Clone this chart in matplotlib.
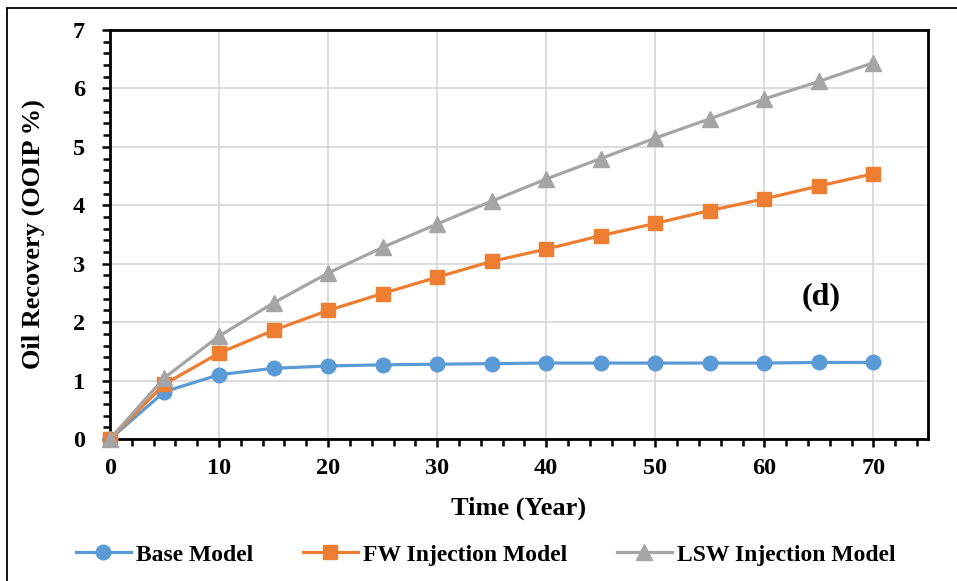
import matplotlib
matplotlib.use('Agg')
import matplotlib.pyplot as plt
from matplotlib.patches import Rectangle
from matplotlib.ticker import MultipleLocator

# data
years = [0, 5, 10, 15, 20, 25, 30, 35, 40, 45, 50, 55, 60, 65, 70]
base_model = [0, 0.81, 1.10, 1.21, 1.25, 1.27, 1.28, 1.29, 1.30, 1.30, 1.30, 1.30, 1.30, 1.31, 1.31]
fw_model = [0, 0.94, 1.47, 1.86, 2.20, 2.49, 2.77, 3.04, 3.25, 3.48, 3.69, 3.91, 4.11, 4.33, 4.54]
lsw_model = [0, 1.05, 1.76, 2.33, 2.84, 3.28, 3.68, 4.07, 4.45, 4.80, 5.15, 5.48, 5.82, 6.12, 6.44]

plt.rcParams['font.family'] = ['Liberation Serif', 'DejaVu Serif']
plt.rcParams['font.weight'] = 'bold'

fig = plt.figure(figsize=(9.57, 5.81), dpi=100)
ax = fig.add_axes([0.1149, 0.2444, 0.8548, 0.704])

# outer frame (partly cut off at right/bottom like the picture)
fig.patches.append(Rectangle((7 / 957, -0.05), 1.0, (581 - 8) / 581 + 0.05,
                             transform=fig.transFigure, fill=False,
                             edgecolor='black', linewidth=1.3))

ax.plot(years, base_model, color='#5B9BD5', marker='o', markersize=10.5, linewidth=2.3,
        label='Base Model', clip_on=False, zorder=3)
ax.plot(years, fw_model, color='#ED7D31', marker='s', markersize=10.5, linewidth=2.3,
        label='FW Injection Model', clip_on=False, zorder=3)
ax.plot(years, lsw_model, color='#A5A5A5', marker='^', markersize=11, linewidth=2.3,
        label='LSW Injection Model', clip_on=False, zorder=3)

ax.set_xlim(0, 75)
ax.set_ylim(0, 7)
ax.xaxis.set_major_locator(MultipleLocator(10))
ax.xaxis.set_minor_locator(MultipleLocator(2))
ax.yaxis.set_major_locator(MultipleLocator(1))
ax.yaxis.set_minor_locator(MultipleLocator(0.2))
ax.grid(True, which='major', color='#D9D9D9', linewidth=1.3)
ax.set_axisbelow(True)

ax.tick_params(which='both', direction='out', width=1.8, color='black', labelsize=17.5)
ax.tick_params(which='major', length=6)
ax.tick_params(axis='x', which='major', pad=8)
ax.tick_params(axis='y', which='major', pad=12)
ax.tick_params(which='minor', length=5)
for s in ax.spines.values():
    s.set_linewidth(2)
    s.set_color('black')

ax.set_xlabel('Time (Year)', fontsize=19, fontweight='bold', labelpad=12)
ax.set_ylabel('Oil Recovery (OOIP %)', fontsize=19, fontweight='bold', labelpad=20)

ax.text(65.2, 2.43, '(d)', fontsize=23, fontweight='bold', ha='center', va='center')

fig.legend(loc='center', bbox_to_anchor=(0.508, 0.045), ncol=3, frameon=False,
           fontsize=17, handlelength=2.3, columnspacing=2.1, handletextpad=0.25)

fig.savefig('out.png', dpi=100)
